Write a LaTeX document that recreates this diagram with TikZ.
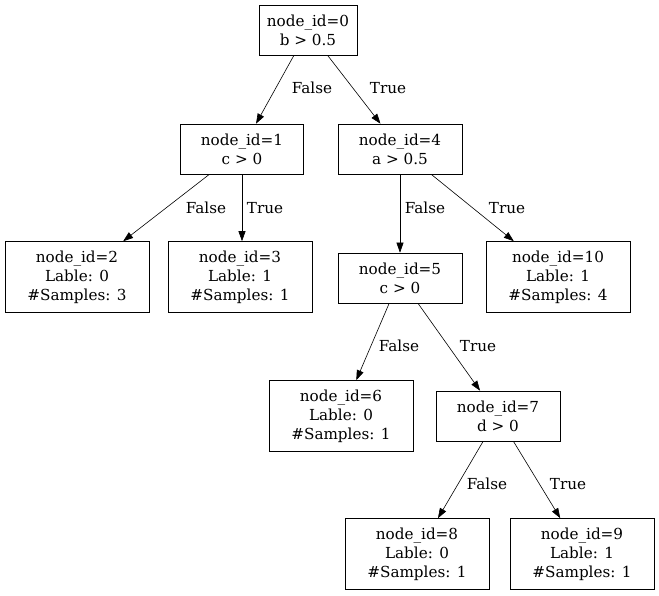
\documentclass[tikz,border=0pt]{standalone}
\usepackage{fontspec}
\setmainfont{DejaVu Serif}
\usetikzlibrary{arrows.meta}
\begin{document}
\begin{tikzpicture}[x=1pt,y=-1pt,
  every node/.style={font=\fontsize{15.2}{19}\selectfont},
  box/.style={draw, semithick, align=center, inner sep=0pt, minimum height=50pt},
  leaf/.style={box, minimum width=144pt, minimum height=71pt},
  inner/.style={box, minimum width=124pt},
  edge/.style={-{Triangle[length=10pt,width=7pt]}, semithick},
  lbl/.style={inner sep=0pt}]
\useasboundingbox (0,0) rectangle (659,596);
\node[box, minimum width=98pt] (n0) at (308,30) {node\_id=0\\b > 0.5};
\node[inner, minimum width=123pt] (n1) at (242,149) {node\_id=1\\c > 0};
\node[inner] (n4) at (400,149) {node\_id=4\\a > 0.5};
\node[leaf] (n2) at (77,277) {node\_id=2\\Lable: 0\\\#Samples: 3};
\node[leaf] (n3) at (240,277) {node\_id=3\\Lable: 1\\\#Samples: 1};
\node[inner] (n5) at (400,278) {node\_id=5\\c > 0};
\node[leaf] (n10) at (558,277) {node\_id=10\\Lable: 1\\\#Samples: 4};
\node[leaf] (n6) at (341,416) {node\_id=6\\Lable: 0\\\#Samples: 1};
\node[inner] (n7) at (498,416) {node\_id=7\\d > 0};
\node[leaf] (n8) at (417,554) {node\_id=8\\Lable: 0\\\#Samples: 1};
\node[leaf] (n9) at (582,554) {node\_id=9\\Lable: 1\\\#Samples: 1};
\draw[edge] (n0) -- (n1);
\draw[edge] (n0) -- (n4);
\draw[edge] (n1) -- (n2);
\draw[edge] (n1.south) -- (n1.south |- n3.north);
\draw[edge] (n4) -- (n5);
\draw[edge] (n4) -- (n10);
\draw[edge] (n5) -- (n6);
\draw[edge] (n5) -- (n7);
\draw[edge] (n7) -- (n8);
\draw[edge] (n7) -- (n9);
\node[lbl] (l1) at (312,88) {False};
\node[lbl] (l2) at (388,88) {True};
\node[lbl] (l3) at (206,208) {False};
\node[lbl] (l4) at (265,208) {True};
\node[lbl] (l5) at (425,208) {False};
\node[lbl] (l6) at (507,208) {True};
\node[lbl] (l7) at (399,346) {False};
\node[lbl] (l8) at (478,346) {True};
\node[lbl] (l9) at (487,484) {False};
\node[lbl] (l10) at (568,484) {True};
\end{tikzpicture}
\end{document}
